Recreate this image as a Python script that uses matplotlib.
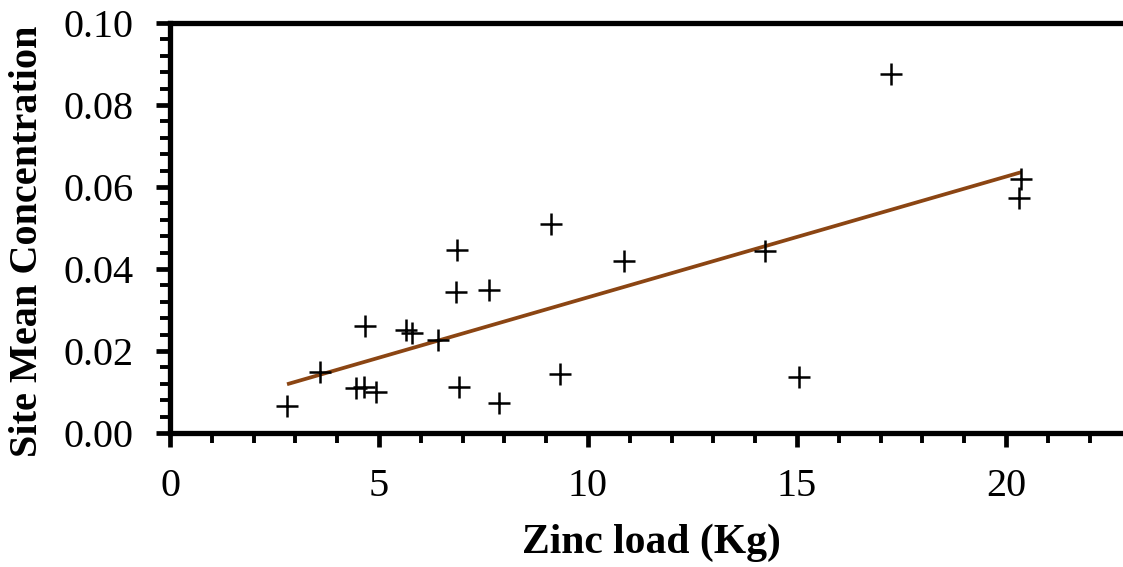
import numpy as np
import matplotlib
matplotlib.use("Agg")
import matplotlib.pyplot as plt
from matplotlib.ticker import MultipleLocator, FormatStrFormatter

# Site data: zinc load (kg) vs site mean concentration
zinc_load = [2.80, 3.58, 4.45, 4.64, 4.93, 4.67, 5.64, 5.80, 6.42, 6.87, 6.84,
             7.64, 6.92, 7.88, 9.12, 9.33, 10.85, 14.24, 15.05, 17.26, 20.37, 20.30]
concentration = [0.0065, 0.0148, 0.0110, 0.0112, 0.0100, 0.0261, 0.0252, 0.0243,
                 0.0226, 0.0447, 0.0344, 0.0348, 0.0113, 0.0072, 0.0509, 0.0144,
                 0.0419, 0.0445, 0.0136, 0.0875, 0.0620, 0.0573]

x_major_ticks = [0, 5, 10, 15, 20]
y_major_ticks = [0.00, 0.02, 0.04, 0.06, 0.08, 0.10]

plt.rcParams["font.family"] = ["Liberation Serif", "DejaVu Serif"]

W, H = 1123, 567
fig = plt.figure(figsize=(W / 100, H / 100), dpi=100)
ax = fig.add_axes([170 / W, (H - 433) / H, (W - 170) / W, (433 - 23) / H])

x = np.array(zinc_load)
y = np.array(concentration)

# Least-squares trend line over the observed range
slope, intercept = np.polyfit(x, y, 1)
xf = np.array([x.min(), x.max()])
ax.plot(xf, slope * xf + intercept, color="#8B4513", lw=2.7, zorder=2,
        solid_capstyle="butt")

ax.plot(x, y, linestyle="none", marker="+", color="black",
        markersize=16, markeredgewidth=1.8, zorder=3)

ax.set_xlim(0, 22.8)
ax.set_ylim(0, 0.10)
ax.set_xticks(x_major_ticks)
ax.set_yticks(y_major_ticks)
ax.xaxis.set_minor_locator(MultipleLocator(1))
ax.yaxis.set_minor_locator(MultipleLocator(0.004))
ax.yaxis.set_major_formatter(FormatStrFormatter("%.2f"))

for side in ("left", "bottom", "top"):
    ax.spines[side].set_linewidth(3.8)
    ax.spines[side].set_color("black")
ax.spines["right"].set_visible(False)

ax.tick_params(axis="both", which="major", direction="out", length=10,
               width=3.4, color="black", labelsize=29)
ax.tick_params(axis="both", which="minor", direction="out", length=7,
               width=2.8, color="black")
ax.tick_params(axis="y", which="major", pad=16)
ax.tick_params(axis="x", which="major", pad=15)
ax.tick_params(top=False, right=False, which="both")

fig.text(651 / W, 1 - 553 / H, "Zinc load (Kg)", ha="center", va="baseline",
         fontsize=30, fontweight="bold")
fig.text(28 / W, 1 - 241 / H, "Site Mean Concentration", ha="center",
         va="center", rotation=90, fontsize=29, fontweight="bold")

fig.savefig("out.png", dpi=100)
